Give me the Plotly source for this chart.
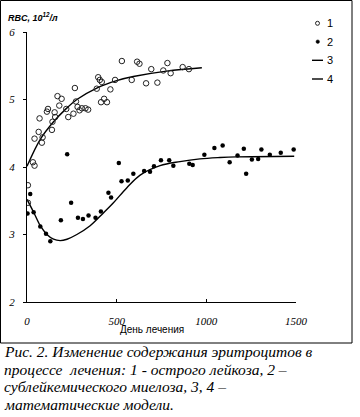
import plotly.graph_objects as go

# ---- data ----
s1_day = [5, 5, 33, 42, 42, 65, 70, 83, 87, 111, 117, 139, 142, 154, 157, 170, 180, 193,
          219, 230, 259, 267, 273, 282, 293, 306, 326, 341, 389, 397, 406, 417, 413, 430,
          446, 465, 491, 529, 584, 614, 627, 664, 693, 727, 760, 783, 801, 868, 903]
s1_rbc = [3.73, 3.47, 4.07, 4.02, 4.42, 4.52, 4.72, 4.36, 4.44, 4.82, 4.86, 4.55, 4.67, 4.81,
          4.74, 5.05, 4.91, 5.01, 4.86, 4.74, 4.79, 5.17, 4.97, 4.89, 4.84, 4.87, 4.87, 4.85,
          5.16, 5.33, 5.29, 5.26, 4.96, 5.01, 4.96, 5.15, 5.29, 5.57, 5.29, 5.56, 5.53, 5.24,
          5.45, 5.25, 5.43, 5.54, 5.39, 5.48, 5.45]

s2_day = [3, 18, 37, 74, 106, 130, 189, 224, 246, 284, 312, 343, 382, 412, 454, 469, 512,
          527, 562, 593, 653, 686, 708, 747, 793, 816, 905, 924, 989, 1045, 1091, 1130,
          1174, 1209, 1222, 1254, 1289, 1307, 1354, 1415, 1487]
s2_rbc = [3.31, 3.60, 3.33, 3.12, 3.01, 2.90, 3.21, 4.19, 3.47, 3.25, 3.23, 3.28, 3.25, 3.34,
          3.62, 3.55, 4.06, 3.79, 3.80, 3.90, 3.94, 3.93, 4.01, 4.10, 4.10, 4.02, 4.05, 4.03,
          4.18, 4.28, 4.32, 4.07, 4.17, 4.27, 3.90, 4.11, 4.12, 4.26, 4.18, 4.21, 4.26]

m3_day = [0, 74, 148, 213, 278, 389, 500, 593, 779, 975]
m3_rbc = [4.01, 4.41, 4.67, 4.85, 5.00, 5.17, 5.28, 5.34, 5.42, 5.47]

m4_day = [0, 37, 74, 111, 148, 185, 223, 278, 352, 426, 482, 556, 631, 742, 853, 964, 1076, 1168, 1490]
m4_rbc = [3.52, 3.33, 3.13, 3.00, 2.93, 2.91, 2.93, 3.00, 3.13, 3.32, 3.47, 3.69, 3.88, 4.02,
          4.08, 4.12, 4.14, 4.15, 4.16]

x_ticks = [0, 500, 1000, 1500]
y_ticks = [2, 3, 4, 5, 6]
legend_labels = ["1", "2", "3", "4"]
y_title = "<b><i>RBC, 10<sup>12</sup>/л</i></b>"
x_title = "День лечения"
caption = ["Рис. 2. Изменение содержания эритроцитов в",
           "процессе  лечения: 1 - острого лейкоза, 2 –",
           "сублейкемического миелоза, 3, 4 –",
           "математические модели."]

# ---- layout geometry ----
W, H = 360, 417
L, T, PW, PH = 27, 32, 269, 270
R, B = W - L - PW, H - T - PH


def px(x):
    return (x - L) / PW


def py(y):
    return 1 - (y - T) / PH


fig = go.Figure()
fig.add_trace(go.Scatter(x=m3_day, y=m3_rbc, mode="lines", line=dict(color="black", width=1.4, shape="spline", smoothing=1.0), name="3", showlegend=False))
fig.add_trace(go.Scatter(x=m4_day, y=m4_rbc, mode="lines", line=dict(color="black", width=1.4, shape="spline", smoothing=1.0), name="4", showlegend=False))
fig.add_trace(go.Scatter(x=s1_day, y=s1_rbc, mode="markers", name="1", showlegend=False,
                         marker=dict(symbol="circle-open", size=5.5, color="#222", line=dict(width=1, color="#222"))))
fig.add_trace(go.Scatter(x=s2_day, y=s2_rbc, mode="markers", name="2", showlegend=False,
                         marker=dict(symbol="circle", size=4.5, color="black")))

serif = "Liberation Serif"
sans = "Liberation Sans"

fig.update_layout(
    width=W, height=H, autosize=False,
    margin=dict(l=L, r=R, t=T, b=B, pad=0),
    paper_bgcolor="white", plot_bgcolor="white",
    showlegend=False,
    xaxis=dict(range=[0, 1500], tickvals=x_ticks, ticks="inside", ticklen=3, tickcolor="black",
               showline=True, linecolor="black", linewidth=1, showgrid=False, zeroline=False,
               tickfont=dict(family=serif, size=11, color="black", style="italic"),
               ticklabelstandoff=9, automargin=False),
    yaxis=dict(range=[2, 6], tickvals=y_ticks, ticks="outside", ticklen=3, tickcolor="black",
               showline=True, linecolor="black", linewidth=1, showgrid=False, zeroline=False,
               tickfont=dict(family=serif, size=11, color="black", style="italic"),
               ticklabelstandoff=6, automargin=False),
)

shapes = [dict(type="rect", xref="paper", yref="paper", x0=px(0.5), x1=px(352), y0=py(0.5), y1=py(343),
               line=dict(color="black", width=1), fillcolor="rgba(0,0,0,0)", layer="above")]
annotations = []

# legend (manual, to match the short samples of the reference)
leg_y = [23.3, 41.7, 60.3, 79]
shapes.append(dict(type="circle", xref="paper", yref="paper", x0=px(315.5), x1=px(319.5), y0=py(25.3), y1=py(21.3),
                   line=dict(color="#222", width=1)))
shapes.append(dict(type="circle", xref="paper", yref="paper", x0=px(316), x1=px(319.5), y0=py(43.4), y1=py(39.9),
                   line=dict(color="black", width=0.5), fillcolor="black"))
for yy in leg_y[2:]:
    shapes.append(dict(type="line", xref="paper", yref="paper", x0=px(312), x1=px(323), y0=py(yy), y1=py(yy),
                       line=dict(color="black", width=1.4)))
for lab, yy in zip(legend_labels, leg_y):
    annotations.append(dict(text=lab, xref="paper", yref="paper", x=px(325), y=py(yy), xanchor="left", yanchor="middle",
                            showarrow=False, font=dict(family=sans, size=11, color="black")))

annotations.append(dict(text=y_title, xref="paper", yref="paper", x=px(6), y=py(17), xanchor="left", yanchor="middle",
                        showarrow=False, font=dict(family=sans, size=9, color="black")))
annotations.append(dict(text=x_title, xref="paper", yref="paper", x=px(152), y=py(329.5), xanchor="center", yanchor="middle",
                        showarrow=False, font=dict(family=sans, size=10, color="black")))

cap_y = [351.7, 369.3, 386.7, 404]
for line, yy in zip(caption, cap_y):
    annotations.append(dict(text="<i>" + line + "</i>", xref="paper", yref="paper", x=px(2), y=py(yy),
                            xanchor="left", yanchor="middle", showarrow=False,
                            font=dict(family=serif, size=15.5, color="black")))

fig.update_layout(shapes=shapes, annotations=annotations)
fig.write_html("out.html", config={"displayModeBar": False},
               post_script="document.body.style.margin='0';document.body.style.overflow='hidden';")
